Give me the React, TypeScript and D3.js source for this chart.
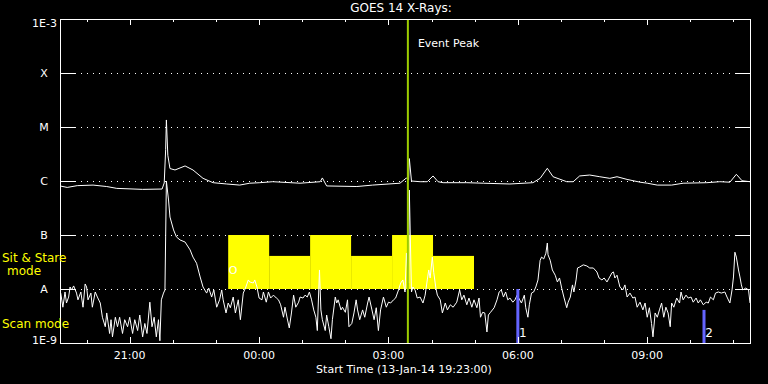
import { useEffect, useRef } from 'react';
import * as d3 from 'd3';

const W = 768;
const H = 384;
const START = new Date(2014, 0, 13, 19, 23);
const SPAN_MIN = 960; // 16 h window

// 1-8 Å channel: [minutes after start, W/m²]
const LONG_CHANNEL: [number, number][] = [
  [0, 8.1e-7], [10, 7.6e-7], [24, 8.2e-7], [46, 8.4e-7], [65, 7.9e-7], [79, 7.3e-7],
  [115, 7.0e-7], [142, 7.1e-7], [145, 9.2e-7], [147, 3.8e-6], [148, 1.35e-5], [150, 3.0e-6],
  [153, 1.7e-6], [160, 1.6e-6], [174, 1.9e-6], [185, 1.6e-6], [199, 1.12e-6], [213, 9.3e-7],
  [232, 8.8e-7], [250, 8.4e-7], [264, 9.1e-7], [278, 9.3e-7], [296, 9.7e-7], [334, 9.1e-7],
  [362, 9.7e-7], [365, 1.14e-6], [371, 8.1e-7], [413, 7.9e-7], [435, 8.4e-7], [473, 9.1e-7],
  [482, 1.14e-6], [485, 1.04e-6], [486, 2.6e-6], [489, 1.0e-6], [501, 9.7e-7], [511, 9.7e-7],
  [519, 1.24e-6], [526, 9.7e-7], [533, 9.3e-7], [566, 9.3e-7], [589, 9.1e-7], [626, 8.8e-7],
  [658, 9.3e-7], [668, 1.12e-6], [678, 1.72e-6], [686, 1.2e-6], [705, 9.7e-7], [714, 9.7e-7],
  [723, 1.24e-6], [737, 1.29e-6], [751, 1.2e-6], [765, 1.12e-6], [775, 1.2e-6], [789, 1.07e-6],
  [807, 9.5e-7], [817, 9.1e-7], [831, 8.4e-7], [851, 8.4e-7], [867, 9.1e-7], [900, 9.3e-7],
  [918, 9.7e-7], [932, 9.5e-7], [941, 1.33e-6], [949, 1.01e-6], [960, 9.7e-7],
];

// 0.5-4 Å channel: [minutes after start, W/m²]
const SHORT_CHANNEL: [number, number][] = [
  [1, 8.4e-9], [4, 4.6e-9], [7, 8.8e-9], [9, 5.5e-9], [12, 7.1e-9], [14, 1.09e-8], [16, 9.6e-9],
  [19, 1.14e-8], [23, 8.4e-9], [25, 6.3e-9], [29, 8.8e-9], [32, 4.6e-9], [35, 1.24e-8], [37, 1.09e-8],
  [39, 6.3e-9], [43, 8.4e-9], [45, 4.6e-9], [49, 8.8e-9], [52, 7.1e-9], [56, 5.5e-9], [59, 3.0e-9],
  [63, 2.0e-9], [65, 3.6e-9], [69, 1.5e-9], [71, 2.7e-9], [73, 1.3e-9], [77, 3.0e-9], [80, 2.0e-9],
  [83, 3.0e-9], [87, 1.5e-9], [90, 2.7e-9], [94, 2.0e-9], [97, 3.0e-9], [101, 1.5e-9], [104, 2.7e-9],
  [108, 1.7e-9], [111, 3.3e-9], [115, 1.3e-9], [118, 2.3e-9], [121, 1.5e-9], [125, 5.7e-9], [128, 2.0e-9],
  [131, 3.0e-9], [134, 1.3e-9], [137, 2.7e-9], [139, 1.1e-9], [141, 6.3e-9], [144, 8.4e-9], [146, 9.6e-9],
  [147, 9.2e-8], [148, 1.0e-6], [151, 4.45e-7], [153, 2.15e-7], [158, 1.24e-7], [162, 9.2e-8], [167, 8.1e-8],
  [174, 7.4e-8], [181, 5.3e-8], [185, 3.9e-8], [190, 3.0e-8], [195, 1.67e-8], [199, 1.09e-8], [204, 8.4e-9],
  [207, 1.04e-8], [211, 7.1e-9], [214, 9.6e-9], [218, 4.6e-9], [222, 6.3e-9], [225, 9.6e-9], [227, 6.3e-9],
  [231, 3.6e-9], [234, 5.5e-9], [237, 4.5e-9], [241, 7.1e-9], [244, 3.6e-9], [248, 6.3e-9], [251, 2.7e-9],
  [255, 8.4e-9], [258, 1.04e-8], [262, 1.47e-8], [264, 1.35e-8], [269, 1.29e-8], [271, 1.47e-8], [274, 1.09e-8],
  [277, 6.8e-9], [281, 6.3e-9], [283, 8.8e-9], [287, 5.7e-9], [290, 8.8e-9], [293, 6.8e-9], [297, 7.7e-9],
  [301, 6.8e-9], [304, 6.3e-9], [307, 5.1e-9], [311, 3.0e-9], [313, 4.6e-9], [316, 2.9e-9], [319, 1.9e-9],
  [322, 3.6e-9], [325, 7.7e-9], [328, 4.6e-9], [332, 5.7e-9], [334, 7.1e-9], [338, 6.8e-9], [341, 7.7e-9],
  [344, 7.1e-9], [347, 8.8e-9], [350, 6.3e-9], [353, 4.1e-9], [356, 3.0e-9], [358, 1.7e-9], [361, 2.25e-8],
  [363, 4.1e-9], [365, 2.7e-9], [369, 1.7e-9], [371, 3.3e-9], [374, 2.0e-9], [377, 1.2e-9], [379, 2.7e-9],
  [383, 7.1e-9], [385, 5.5e-9], [387, 6.3e-9], [391, 4.1e-9], [393, 4.6e-9], [397, 3.7e-9], [400, 6.3e-9],
  [402, 2.0e-9], [406, 2.3e-9], [409, 3.6e-9], [412, 6.3e-9], [414, 4.1e-9], [417, 2.7e-9], [421, 4.1e-9],
  [424, 3.0e-9], [428, 5.5e-9], [430, 7.1e-9], [434, 4.1e-9], [437, 2.7e-9], [440, 4.5e-9], [443, 1.7e-9],
  [446, 4.1e-9], [450, 7.1e-9], [454, 4.6e-9], [457, 5.7e-9], [460, 5.5e-9], [464, 6.3e-9], [467, 6.8e-9],
  [471, 9.6e-9], [474, 1.29e-8], [477, 1.47e-8], [480, 8.8e-9], [482, 4.6e-8], [485, 1.29e-8], [486, 6.8e-7],
  [489, 8.8e-9], [491, 1.09e-8], [494, 9.6e-9], [497, 6.8e-9], [501, 7.1e-9], [505, 5.5e-9], [508, 7.7e-9],
  [511, 1.47e-8], [513, 2.25e-8], [515, 1.6e-8], [518, 3.9e-8], [520, 2.0e-8], [523, 1.04e-8], [525, 7.7e-9],
  [529, 6.3e-9], [532, 3.6e-9], [536, 5.5e-9], [539, 4.1e-9], [543, 5.1e-9], [547, 4.6e-9], [552, 5.7e-9],
  [556, 9.6e-9], [559, 6.3e-9], [562, 7.7e-9], [566, 5.1e-9], [569, 6.8e-9], [573, 4.6e-9], [576, 6.3e-9],
  [580, 4.5e-9], [583, 6.8e-9], [585, 3.0e-9], [588, 3.7e-9], [591, 3.6e-9], [594, 1.6e-9], [596, 3.3e-9],
  [599, 3.7e-9], [604, 4.5e-9], [608, 6.3e-9], [611, 8.8e-9], [614, 9.6e-9], [617, 7.1e-9], [620, 8.8e-9],
  [623, 6.3e-9], [626, 6.8e-9], [630, 5.7e-9], [633, 6.3e-9], [636, 7.7e-9], [642, 5.5e-9], [646, 7.7e-9],
  [648, 4.5e-9], [651, 3.0e-9], [653, 5.1e-9], [656, 8.4e-9], [659, 8.8e-9], [662, 1.09e-8], [665, 1.47e-8],
  [668, 3.4e-8], [670, 3.9e-8], [673, 3.6e-8], [676, 4.6e-8], [678, 7.1e-8], [679, 4.3e-8], [682, 3.4e-8],
  [685, 2.25e-8], [689, 1.8e-8], [692, 1.35e-8], [695, 1.6e-8], [698, 1.04e-8], [701, 7.1e-9], [705, 4.5e-9],
  [707, 5.7e-9], [710, 7.1e-9], [713, 1.19e-8], [715, 8.8e-9], [718, 1.47e-8], [720, 2.45e-8], [723, 2.55e-8],
  [728, 2.8e-8], [733, 2.67e-8], [737, 2.45e-8], [742, 2.45e-8], [747, 2.07e-8], [750, 1.6e-8], [754, 1.47e-8],
  [757, 1.6e-8], [761, 1.35e-8], [764, 1.6e-8], [768, 2.0e-8], [770, 2.07e-8], [772, 1.6e-8], [775, 1.8e-8],
  [779, 1.09e-8], [783, 9.6e-9], [786, 1.19e-8], [789, 7.1e-9], [793, 8.4e-9], [797, 6.8e-9], [800, 7.1e-9],
  [803, 4.6e-9], [807, 5.7e-9], [811, 4.1e-9], [814, 5.5e-9], [817, 3.0e-9], [820, 4.5e-9], [823, 2.3e-9],
  [825, 1.3e-9], [828, 3.6e-9], [831, 3.0e-9], [834, 4.1e-9], [837, 5.5e-9], [840, 3.0e-9], [843, 4.6e-9],
  [846, 3.6e-9], [849, 2.0e-9], [851, 5.5e-9], [854, 4.6e-9], [858, 6.8e-9], [862, 5.5e-9], [864, 8.8e-9],
  [867, 6.3e-9], [871, 7.7e-9], [874, 6.8e-9], [878, 7.1e-9], [881, 5.7e-9], [885, 6.8e-9], [888, 5.5e-9],
  [891, 6.3e-9], [895, 5.1e-9], [899, 5.7e-9], [902, 5.5e-9], [905, 7.1e-9], [909, 6.3e-9], [912, 8.4e-9],
  [916, 8.8e-9], [920, 8.4e-9], [925, 8.8e-9], [928, 7.1e-9], [932, 5.5e-9], [935, 9.6e-9], [937, 1.67e-8],
  [939, 4.8e-8], [941, 3.9e-8], [944, 2.25e-8], [946, 1.67e-8], [948, 1.19e-8], [950, 9.6e-9], [954, 1.04e-8],
  [958, 9.6e-9], [960, 5.5e-9],
];

const LEVEL_FLUX = [1e-9, 1e-8, 1e-7, 1e-6, 1e-5, 1e-4, 1e-3];
const LEVEL_LABELS = ['1E-9', 'A', 'B', 'C', 'M', 'X', '1E-3'];

// sit & stare observing blocks (minutes after start) and their heights
const SIT_STARE_EDGES = [234, 291, 348, 405, 462, 519, 576];
const SIT_STARE_TOPS = [1e-7, 4.1e-8, 1e-7, 4.1e-8, 1e-7, 4.1e-8];
const SIT_STARE_BASE = 1e-8;

// scan mode markers
const SCAN_TIMES = [637, 896];
const SCAN_TOPS = [1e-8, 4.1e-9];
const SCAN_LABELS = ['1', '2'];

const EVENT_PEAK = 484;

const FONT = 'DejaVu Sans, sans-serif';
const at = (min: number) => new Date(START.getTime() + min * 60000);

export default function App() {
  const svgRef = useRef<SVGSVGElement>(null);

  useEffect(() => {
    if (!svgRef.current) return;
    const left = 60;
    const right = 750;
    const top = 19;
    const bottom = 343;

    const svg = d3.select(svgRef.current);
    svg.selectAll('*').remove();
    svg.append('rect').attr('width', W).attr('height', H).attr('fill', '#000');

    const x = d3.scaleTime().domain([START, at(SPAN_MIN)]).range([left, right]);
    const y = d3.scaleLog().domain([1e-9, 1e-3]).range([bottom, top]);

    const txt = (tx: number, ty: number, s: string, color = '#fff', anchor = 'middle', size = 11) =>
      svg
        .append('text')
        .attr('x', tx)
        .attr('y', ty)
        .attr('text-anchor', anchor)
        .attr('dominant-baseline', 'central')
        .attr('fill', color)
        .style('font-family', FONT)
        .style('font-size', `${size}px`)
        .text(s);

    // level grid: solid stubs at both edges, dotted across
    LEVEL_FLUX.slice(1, -1).forEach((f) => {
      const yy = Math.round(y(f)) + 0.5;
      svg.append('line').attr('x1', left).attr('x2', left + 15).attr('y1', yy).attr('y2', yy).attr('stroke', '#fff');
      svg.append('line').attr('x1', right - 15).attr('x2', right).attr('y1', yy).attr('y2', yy).attr('stroke', '#fff');
      svg
        .append('line')
        .attr('x1', left + 15)
        .attr('x2', right - 15)
        .attr('y1', yy)
        .attr('y2', yy)
        .attr('stroke', '#fff')
        .attr('stroke-dasharray', '1,5');
    });

    // sit & stare blocks
    SIT_STARE_TOPS.forEach((t, i) => {
      svg
        .append('rect')
        .attr('x', x(at(SIT_STARE_EDGES[i])))
        .attr('y', y(t))
        .attr('width', x(at(SIT_STARE_EDGES[i + 1])) - x(at(SIT_STARE_EDGES[i])))
        .attr('height', y(SIT_STARE_BASE) - y(t))
        .attr('fill', '#ffff00');
    });
    txt(x(at(SIT_STARE_EDGES[0])) + 5, y(2.2e-8), 'O');

    const line = d3
      .line<[number, number]>()
      .x((d) => x(at(d[0])))
      .y((d) => y(d[1]));

    [LONG_CHANNEL, SHORT_CHANNEL].forEach((series) => {
      svg.append('path').attr('d', line(series)).attr('fill', 'none').attr('stroke', '#fff').attr('stroke-width', 1);
    });

    // scan markers
    SCAN_TIMES.forEach((t, i) => {
      const xx = x(at(t));
      svg.append('rect').attr('x', xx - 1.5).attr('y', y(SCAN_TOPS[i])).attr('width', 3).attr('height', bottom - y(SCAN_TOPS[i])).attr('fill', '#6464ff');
      txt(xx + 5, 333, SCAN_LABELS[i], '#fff', 'middle', 12);
    });

    // event peak
    const px = x(at(EVENT_PEAK));
    svg.append('line').attr('x1', px).attr('x2', px).attr('y1', top).attr('y2', bottom).attr('stroke', '#9ccc00').attr('stroke-width', 2);
    txt(px + 10, 43, 'Event Peak', '#fff', 'start');

    // frame
    svg
      .append('rect')
      .attr('x', left + 0.5)
      .attr('y', top + 0.5)
      .attr('width', right - left)
      .attr('height', bottom - top)
      .attr('fill', 'none')
      .attr('stroke', '#fff');

    // time ticks, hourly minor and 3-hourly major, top and bottom
    const hours = x.ticks(d3.timeHour.every(1)!);
    hours.forEach((h) => {
      const xx = Math.round(x(h)) + 0.5;
      const len = h.getHours() % 3 === 0 ? 6 : 3;
      svg.append('line').attr('x1', xx).attr('x2', xx).attr('y1', top).attr('y2', top + len).attr('stroke', '#fff');
      svg.append('line').attr('x1', xx).attr('x2', xx).attr('y1', bottom).attr('y2', bottom - len).attr('stroke', '#fff');
    });
    const fmt = d3.timeFormat('%H:%M');
    x.ticks(d3.timeHour.every(3)!).forEach((h) => txt(x(h), 355, fmt(h)));

    // flux level labels
    LEVEL_FLUX.forEach((f, i) => {
      const lab = LEVEL_LABELS[i];
      if (lab.length > 1) {
        txt(57, y(f) + (i === 0 ? -3 : 4), lab, '#fff', 'end');
      } else {
        txt(44, y(f), lab);
      }
    });

    txt(401, 8, 'GOES 14 X-Rays:', '#fff', 'middle', 12);
    txt(404, 369, 'Start Time (13-Jan-14 19:23:00)');

    txt(2, 258, 'Sit & Stare', '#ffff00', 'start', 12);
    txt(24, 271, 'mode', '#ffff00', 'middle', 12);
    txt(2, 324, 'Scan mode', '#ffff00', 'start', 12);
  }, []);

  return (
    <svg
      ref={svgRef}
      width={W}
      height={H}
      style={{ position: 'fixed', left: 0, top: 0, display: 'block' }}
      role="img"
      aria-label="GOES 14 X-ray flux"
    />
  );
}
